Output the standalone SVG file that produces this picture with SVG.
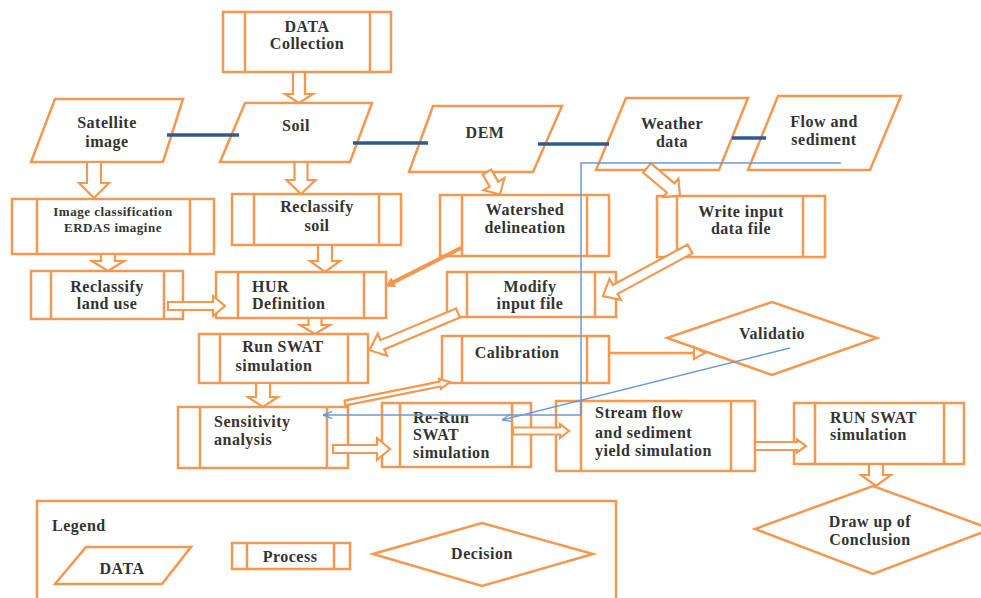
<svg xmlns="http://www.w3.org/2000/svg" width="981" height="598" viewBox="0 0 981 598">
<defs>
<style>
.s{fill:#fff;stroke:#F4974F;stroke-width:2.5}
.b{fill:none;stroke:#F4974F;stroke-width:2.5}
.ba{fill:#fff;stroke:#F4974F;stroke-width:2.2;stroke-linejoin:miter}
.t{font-family:"Liberation Serif","Times New Roman",serif;font-weight:bold;font-size:16px;fill:#333;letter-spacing:0.5px}
.m{text-anchor:middle}
.sm{font-size:13px}
.dk{stroke:#2E5B8C;stroke-width:3.5;fill:none}
.lb{stroke:#6A9BD8;stroke-width:1.5;fill:none}
</style>
<marker id="vb" viewBox="0 0 10 10" refX="10" refY="5" markerWidth="9" markerHeight="9" orient="auto" markerUnits="userSpaceOnUse"><path d="M0,1 L10,5 L0,9" fill="none" stroke="#6A9BD8" stroke-width="1.5"/></marker>
</defs>
<rect width="981" height="598" fill="#fff"/>

<!-- Nodes -->
<g id="data-collection"><rect class="s" x="223" y="12" width="168" height="60"/><line class="b" x1="245" y1="12" x2="245" y2="72"/><line class="b" x1="370" y1="12" x2="370" y2="72"/><text class="t m" x="307" y="32">DATA</text><text class="t m" x="307" y="49">Collection</text></g>

<g id="satellite"><polygon class="s" points="55,99 183,99 163,162 31,162"/><text class="t m" x="107" y="128">Satellite</text><text class="t m" x="107" y="147">image</text></g>
<g id="soil"><polygon class="s" points="245,103 372,103 350,162 220,162"/><text class="t m" x="296" y="131">Soil</text></g>
<g id="dem"><polygon class="s" points="433,106 562,106 533,172 409,172"/><text class="t m" x="485" y="138">DEM</text></g>
<g id="weather"><polygon class="s" points="626,98 748,98 719,170 596,170"/><text class="t m" x="672" y="129">Weather</text><text class="t m" x="672" y="147">data</text></g>
<g id="flow"><polygon class="s" points="778,96 901,96 870,170 748,170"/><text class="t m" x="824" y="127">Flow and</text><text class="t m" x="824" y="145">sediment</text></g>

<g id="image-classification"><rect class="s" x="12" y="199" width="202" height="55"/><line class="b" x1="37" y1="199" x2="37" y2="254"/><line class="b" x1="190" y1="199" x2="190" y2="254"/><text class="t m sm" x="113" y="216">Image classification</text><text class="t m sm" x="113" y="232">ERDAS imagine</text></g>
<g id="reclassify-soil"><rect class="s" x="232" y="194" width="169" height="51"/><line class="b" x1="254" y1="194" x2="254" y2="245"/><line class="b" x1="379" y1="194" x2="379" y2="245"/><text class="t m" x="317" y="212">Reclassify</text><text class="t m" x="317" y="231">soil</text></g>
<g id="watershed"><rect class="s" x="440" y="195" width="169" height="61"/><line class="b" x1="462" y1="195" x2="462" y2="256"/><line class="b" x1="587" y1="195" x2="587" y2="256"/><text class="t m" x="525" y="215">Watershed</text><text class="t m" x="525" y="233">delineation</text></g>
<g id="write-input"><rect class="s" x="657" y="196" width="168" height="61"/><line class="b" x1="677" y1="196" x2="677" y2="257"/><line class="b" x1="803" y1="196" x2="803" y2="257"/><text class="t m" x="741" y="217">Write input</text><text class="t m" x="741" y="234">data file</text></g>

<g id="reclassify-land"><rect class="s" x="31" y="271" width="152" height="48"/><line class="b" x1="51" y1="271" x2="51" y2="319"/><line class="b" x1="164" y1="271" x2="164" y2="319"/><text class="t m" x="107" y="292">Reclassify</text><text class="t m" x="107" y="309">land use</text></g>
<g id="hur"><rect class="s" x="216" y="272" width="170" height="46"/><line class="b" x1="238" y1="272" x2="238" y2="318"/><line class="b" x1="364" y1="272" x2="364" y2="318"/><text class="t" x="252" y="292">HUR</text><text class="t" x="252" y="309">Definition</text></g>
<g id="modify-input"><rect class="s" x="447" y="272" width="169" height="45"/><line class="b" x1="467" y1="272" x2="467" y2="317"/><line class="b" x1="595" y1="272" x2="595" y2="317"/><text class="t m" x="530" y="292">Modify</text><text class="t m" x="530" y="309">input file</text></g>

<g id="run-swat"><rect class="s" x="199" y="334" width="169" height="49"/><line class="b" x1="220" y1="334" x2="220" y2="383"/><line class="b" x1="348" y1="334" x2="348" y2="383"/><text class="t m" x="283" y="352">Run SWAT</text><text class="t m" x="274" y="371">simulation</text></g>
<g id="calibration"><rect class="s" x="442" y="336" width="167" height="47"/><line class="b" x1="462" y1="336" x2="462" y2="383"/><line class="b" x1="587" y1="336" x2="587" y2="383"/><text class="t m" x="517" y="358">Calibration</text></g>
<g id="validation"><polygon class="s" points="667,338 772,302 877,338 772,375"/><text class="t m" x="772" y="339">Validatio</text></g>

<g id="sensitivity"><rect class="s" x="178" y="407" width="170" height="61"/><line class="b" x1="200" y1="407" x2="200" y2="468"/><line class="b" x1="327" y1="407" x2="327" y2="468"/><text class="t" x="214" y="427">Sensitivity</text><text class="t" x="214" y="445">analysis</text></g>
<g id="rerun-swat"><rect class="s" x="382" y="403" width="149" height="64"/><line class="b" x1="400" y1="403" x2="400" y2="467"/><line class="b" x1="512" y1="403" x2="512" y2="467"/><text class="t" x="413" y="423">Re-Run</text><text class="t" x="413" y="440">SWAT</text><text class="t" x="413" y="458">simulation</text></g>
<g id="stream-flow"><rect class="s" x="556" y="401" width="199" height="70"/><line class="b" x1="581" y1="401" x2="581" y2="471"/><line class="b" x1="731" y1="401" x2="731" y2="471"/><text class="t" x="595" y="418">Stream flow</text><text class="t" x="595" y="438">and sediment</text><text class="t" x="595" y="456">yield simulation</text></g>
<g id="run-swat-2"><rect class="s" x="794" y="403" width="170" height="61"/><line class="b" x1="815" y1="403" x2="815" y2="464"/><line class="b" x1="944" y1="403" x2="944" y2="464"/><text class="t" x="830" y="423">RUN SWAT</text><text class="t" x="830" y="440">simulation</text></g>
<g id="conclusion"><polygon class="s" points="755,529 873,486 991,529 873,574"/><text class="t m" x="870" y="527">Draw up of</text><text class="t m" x="870" y="545">Conclusion</text></g>

<g id="legend"><rect class="s" x="37" y="501" width="579" height="120"/><text class="t" x="52" y="531">Legend</text>
<polygon class="s" points="86,547 191,547 162,584 55,584"/><text class="t m" x="122" y="574">DATA</text>
<rect class="s" x="232" y="543" width="118" height="26"/><line class="b" x1="247" y1="543" x2="247" y2="569"/><line class="b" x1="334" y1="543" x2="334" y2="569"/><text class="t m" x="290" y="562">Process</text>
<polygon class="s" points="373,554 482,523 593,554 482,586"/><text class="t m" x="482" y="559">Decision</text></g>

<!-- Connectors -->
<g id="connectors">
<line class="dk" x1="167" y1="135" x2="239" y2="135"/>
<line class="dk" x1="353" y1="143" x2="428" y2="143"/>
<line class="dk" x1="538" y1="144" x2="609" y2="144"/>
<line class="dk" x1="732" y1="138" x2="766" y2="138"/>

<polygon class="ba" points="293,72 305,72 305,94 313,94 299,103 285,94 293,94"/>
<polygon class="ba" points="87,162 101,162 101,183 109,183 94,198 79,183 87,183"/>
<polygon class="ba" points="294.5,162 307.5,162 307.5,180 315.5,180 301,194 286.5,180 294.5,180"/>
<polygon class="ba" points="101,254 115,254 115,261 124,261 108,271 92,261 101,261"/>
<polygon class="ba" points="318,245 332,245 332,261 340,261 325,272 310,261 318,261"/>
<polygon class="ba" points="308.5,318 321.5,318 321.5,325 330,325 315,334 300,325 308.5,325"/>
<polygon class="ba" points="256,383 270,383 270,397 278,397 263,407 248,397 256,397"/>
<polygon class="ba" points="869,464 883,464 883,475 891,475 876,486 861,475 869,475"/>

<polygon class="ba" points="168,302 213,302 213,296 225,306 213,316 213,310 168,310"/>
<polygon class="ba" points="333,445 377,445 377,438 390,449 377,460 377,453 333,453"/>
<polygon class="ba" points="513,427.5 560,427.5 560,424 569,431 560,438 560,434.5 513,434.5"/>
<polygon class="ba" points="755,442 797,442 797,439.5 806,446 797,452.5 797,450 755,450"/>

<polygon class="ba" transform="translate(487,172) rotate(60)" points="0,-5 14,-5 14,-12 26,0 14,12 14,5 0,5"/>
<polygon class="ba" transform="translate(647,168) rotate(40)" points="0,-6 31,-6 31,-12 43,0 31,12 31,6 0,6"/>
<polygon class="ba" transform="translate(690,249) rotate(151.6)" points="0,-5 85,-5 85,-12 99,0 85,12 85,5 0,5"/>
<polygon class="ba" transform="translate(458,313) rotate(157.2)" points="0,-5 82,-5 82,-12 96,0 82,12 82,5 0,5"/>
<polygon class="ba" transform="translate(345,403) rotate(-11.3)" points="0,-2.5 97,-2.5 97,-5 107,0 97,5 97,2.5 0,2.5"/>
<polygon transform="translate(461,248) rotate(153.1)" points="0,-1.5 76,-1.5 76,-4.5 84,0 76,4.5 76,1.5 0,1.5" fill="#F4974F" stroke="#F4974F" stroke-width="1"/>

<line class="b" x1="609" y1="353" x2="695" y2="353"/>
<polygon class="ba" points="694,347 705,353 694,359"/>

<polyline class="lb" points="841,163 581,163 581,415 323,415" marker-end="url(#vb)"/>
<line class="lb" x1="790" y1="348" x2="502" y2="420" marker-end="url(#vb)"/>
</g>
</svg>
